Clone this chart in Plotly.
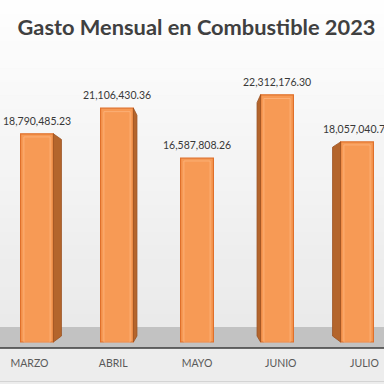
import plotly.graph_objects as go

months = ["MARZO", "ABRIL", "MAYO", "JUNIO", "JULIO"]
gasto = [18790485.23, 21106430.36, 16587808.26, 22312176.30, 18057040.70]
labels = ["18,790,485.23", "21,106,430.36", "16,587,808.26", "22,312,176.30", "18,057,040.70"]
title_text = "Gasto Mensual en Combustible 2023"

H = 384.0


def px2paper(p):
    return 1 - p / H


Y0PX = 342.0
PXPM = 11.08e-6
y_lo = -(H - Y0PX) / PXPM
y_hi = Y0PX / PXPM

BW = 0.41
VX = 2.0
VY = (342.0 - 235.0) / PXPM
S = 0.944
XC = 197.0

fig = go.Figure()
idx = list(range(len(months)))

# side faces (perspective)
for i, v in zip(idx, gasto):
    if i == VX:
        continue
    xe = i + BW / 2 if i < VX else i - BW / 2
    xb = VX + (xe - VX) * S
    yb_top = VY + (v - VY) * S
    yb_bot = VY + (0 - VY) * S
    fig.add_trace(go.Scatter(
        x=[xe, xe, xb, xb, xe], y=[0, v, yb_top, yb_bot, 0],
        fill="toself", fillcolor="#B4652C", mode="lines",
        line=dict(color="#9A5222", width=0.8), hoverinfo="skip", showlegend=False))

fig.add_trace(go.Bar(
    x=idx, y=gasto, width=BW, marker=dict(color="#F79A55", line=dict(color="#E0702A", width=1.2)),
    showlegend=False, hoverinfo="skip"))

# inner bevel highlight
fig.add_trace(go.Bar(
    x=idx, y=[g * 0.985 for g in gasto], width=BW * 0.8,
    marker=dict(color="rgba(0,0,0,0)", line=dict(color="rgba(255,190,140,0.6)", width=1)),
    showlegend=False, hoverinfo="skip"))

for i, v, t in zip(idx, gasto, labels):
    fig.add_annotation(x=i, y=v, text=t, showarrow=False, yanchor="bottom", yshift=5,
                       font=dict(family="Lato", size=10.5, color="#383838"))

shapes = []
# stepped background gradient
N = 24
top, bot = 0.0, 327.0
for k in range(N):
    a = top + (bot - top) * k / N
    b = top + (bot - top) * (k + 1) / N
    f = k / (N - 1)
    c = int(round(254 - f * (254 - 234)))
    shapes.append(dict(type="rect", xref="paper", yref="paper", x0=0, x1=1,
                       y0=px2paper(b) - 0.001, y1=px2paper(a),
                       fillcolor=f"rgb({c},{c},{c})", line=dict(width=0), layer="below"))
shapes.append(dict(type="rect", xref="paper", yref="paper", x0=0, x1=1, y0=px2paper(348), y1=px2paper(327),
                   fillcolor="#C2C2C2", line=dict(width=0), layer="below"))
shapes.append(dict(type="rect", xref="paper", yref="paper", x0=0, x1=1, y0=0, y1=px2paper(348),
                   fillcolor="#EDEDED", line=dict(width=0), layer="below"))
shapes.append(dict(type="line", xref="paper", yref="paper", x0=0, x1=1, y0=px2paper(348), y1=px2paper(348),
                   line=dict(color="#3A3A3A", width=1.5), layer="below"))
shapes.append(dict(type="line", xref="paper", yref="paper", x0=0, x1=1, y0=px2paper(381.5), y1=px2paper(381.5),
                   line=dict(color="#D4D4D4", width=1), layer="below"))

fig.update_layout(
    width=384, height=384, margin=dict(l=0, r=0, t=0, b=0),
    paper_bgcolor="#F3F3F3", plot_bgcolor="rgba(0,0,0,0)",
    shapes=shapes, barmode="overlay",
    title=dict(text=f"<b>{title_text}</b>", x=196.5 / H, xanchor="center", y=px2paper(27), yanchor="middle",
               font=dict(family="Lato", size=21.8, color="#404040")),
    xaxis=dict(range=[VX - XC / 80, VX + (H - XC) / 80], showgrid=False, zeroline=False, showticklabels=False,
               showline=False, fixedrange=True),
    xaxis2=dict(range=[VX - XC / 83.75, VX + (H - XC) / 83.75], overlaying="x", anchor="free",
                position=px2paper(355), side="bottom", tickmode="array", tickvals=idx, ticktext=months,
                ticks="", showgrid=False, zeroline=False, showline=False,
                tickfont=dict(family="Lato", size=10.5, color="#595959")),
    yaxis=dict(range=[y_lo, y_hi], showgrid=False, zeroline=False, showticklabels=False, showline=False),
)
# helper trace so the label axis is drawn
fig.add_trace(go.Scatter(x=idx, y=[None] * len(idx), xaxis="x2", showlegend=False, hoverinfo="skip"))

fig.write_html("out.html", config={"displayModeBar": False},
               post_script="document.body.style.margin='0';")
